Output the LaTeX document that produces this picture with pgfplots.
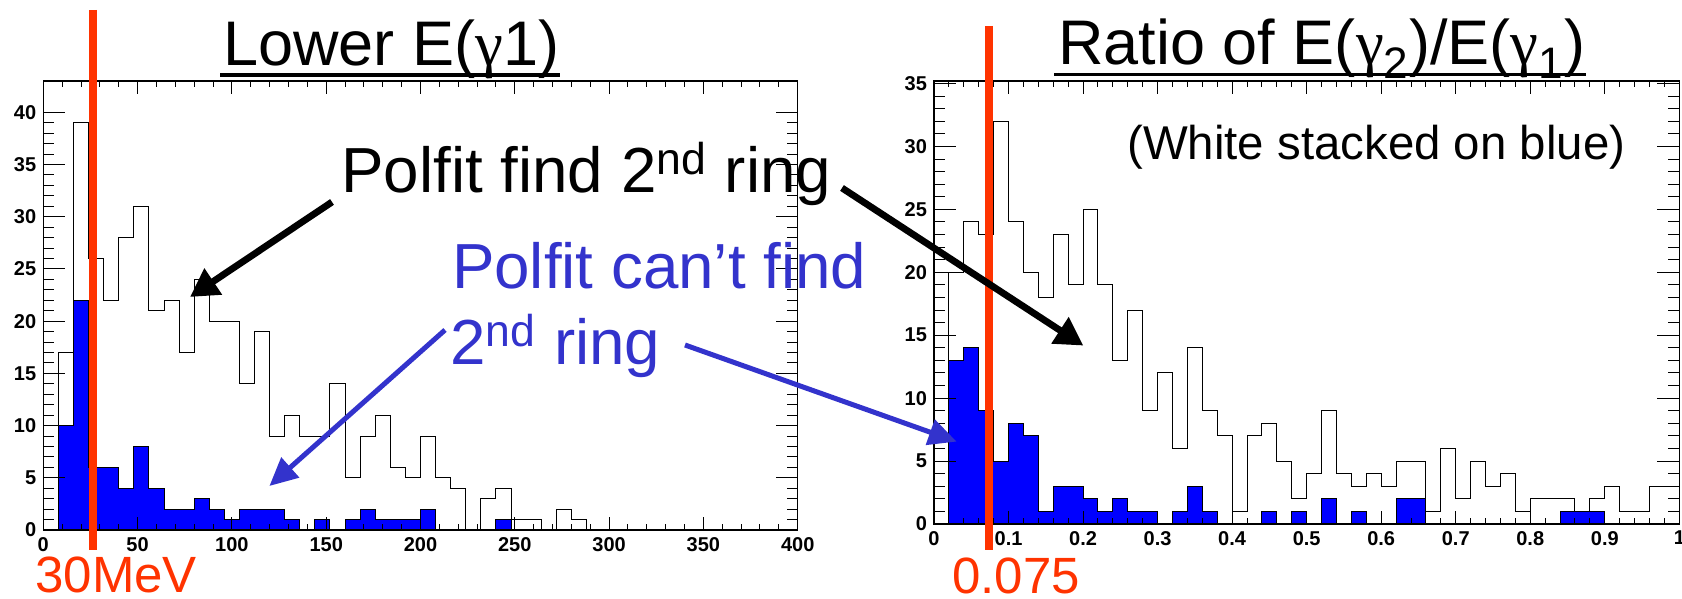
\documentclass[border=0pt]{standalone}
\usepackage{fontspec}
\setmainfont{Liberation Sans}
\newfontfamily\tickfont{Liberation Sans}
\newfontfamily\grk{Liberation Serif}
\usepackage{pgfplots}
\pgfplotsset{compat=1.18}
\usetikzlibrary{arrows.meta}
\definecolor{cut}{RGB}{255,51,0}
\definecolor{annblue}{RGB}{51,51,204}
\definecolor{histblue}{RGB}{0,0,255}

\pgfplotsset{roothist/.style={
  scale only axis, anchor=south west,
  axis line style={line width=0.6pt},
  tick align=inside, xtick pos=both, ytick pos=both,
  major tick length=11pt, minor tick length=5.5pt,
  xtick style={/pgfplots/major tick length=6.3pt,/pgfplots/minor tick length=3pt},
  tick style={line width=0.5pt, black},
  minor x tick num=4, minor y tick num=4,
  /pgf/number format/assume math mode=true,
  ticklabel style={font=\tickfont\bfseries\fontsize{10}{10}\selectfont},
  axis on top,
}}

\begin{document}
\begin{tikzpicture}
\path[use as bounding box] (0,0) rectangle (841pt,299.5pt);

% ---------- left histogram ----------
\begin{axis}[roothist, at={(21.65pt,34.5pt)}, width=377.2pt, height=224.5pt,
  xmin=0, xmax=400, ymin=0, ymax=43,
  xtick={0,50,...,400}, ytick={0,5,...,40}]
\addplot[const plot, draw=black, line width=0.5pt] coordinates {
(0,0) (8,17) (16,39) (24,26) (32,22) (40,28) (48,31) (56,21) (64,22) (72,17)
(80,24) (88,20) (96,20) (104,14) (112,19) (120,9) (128,11) (136,9) (144,9) (152,14)
(160,5) (168,9) (176,11) (184,6) (192,5) (200,9) (208,5) (216,4) (224,0) (232,3)
(240,4) (248,1) (256,1) (264,0) (272,2) (280,1) (288,0)};
\addplot[const plot, fill=histblue, draw=black, line width=0.5pt] coordinates {
(0,0) (8,10) (16,22) (24,6) (32,6) (40,4) (48,8) (56,4) (64,2) (72,2)
(80,3) (88,2) (96,1) (104,2) (112,2) (120,2) (128,1) (136,0) (144,1) (152,0)
(160,1) (168,2) (176,1) (184,1) (192,1) (200,2) (208,0) (216,0) (224,0) (232,0)
(240,1) (248,0)} \closedcycle;
\end{axis}

% ---------- right histogram ----------
\begin{axis}[roothist, at={(467pt,37.5pt)}, width=372.65pt, height=221.5pt,
  xmin=0, xmax=1, ymin=0, ymax=35.2,
  xtick={0,0.1,0.2,0.3,0.4,0.5,0.6,0.7,0.8,0.9,1},
  xticklabels={0,0.1,0.2,0.3,0.4,0.5,0.6,0.7,0.8,0.9,1},
  ytick={0,5,...,35}]
\addplot[const plot, draw=black, line width=0.5pt] coordinates {
(0,0) (0.02,20) (0.04,24) (0.06,23) (0.08,32) (0.10,24) (0.12,20) (0.14,18) (0.16,23) (0.18,19)
(0.20,25) (0.22,19) (0.24,13) (0.26,17) (0.28,9) (0.30,12) (0.32,6) (0.34,14) (0.36,9) (0.38,7)
(0.40,1) (0.42,7) (0.44,8) (0.46,5) (0.48,2) (0.50,4) (0.52,9) (0.54,4) (0.56,3) (0.58,4)
(0.60,3) (0.62,5) (0.64,5) (0.66,1) (0.68,6) (0.70,2) (0.72,5) (0.74,3) (0.76,4) (0.78,1)
(0.80,2) (0.82,2) (0.84,2) (0.86,1) (0.88,2) (0.90,3) (0.92,1) (0.94,1) (0.96,3) (0.98,3) (1.00,3)};
\addplot[const plot, fill=histblue, draw=black, line width=0.5pt] coordinates {
(0,0) (0.02,13) (0.04,14) (0.06,9) (0.08,5) (0.10,8) (0.12,7) (0.14,1) (0.16,3) (0.18,3)
(0.20,2) (0.22,1) (0.24,2) (0.26,1) (0.28,1) (0.30,0) (0.32,1) (0.34,3) (0.36,1) (0.38,0)
(0.40,0) (0.42,0) (0.44,1) (0.46,0) (0.48,1) (0.50,0) (0.52,2) (0.54,0) (0.56,1) (0.58,0)
(0.60,0) (0.62,2) (0.64,2) (0.66,0) (0.68,0) (0.70,0) (0.72,0) (0.74,0) (0.76,0) (0.78,0)
(0.80,0) (0.82,0) (0.84,1) (0.86,1) (0.88,1) (0.90,0) (1.00,0)} \closedcycle;
\end{axis}

% ---------- cut lines ----------
\draw[cut, line width=3.85pt] (46.5pt,294.5pt) -- (46.5pt,24.5pt);
\draw[cut, line width=3.85pt] (494.4pt,286.5pt) -- (494.4pt,24.5pt);
\node[cut, anchor=base west, inner sep=0, font=\fontsize{25.5}{26}\selectfont] at (17.5pt,3pt) {30MeV};
\node[cut, anchor=base west, inner sep=0, font=\fontsize{25.5}{26}\selectfont] at (476pt,2.5pt) {0.075};

% ---------- titles ----------
\node[anchor=base west, inner sep=0, font=\fontsize{31.5}{32}\selectfont] (t1) at (111.5pt,266.5pt) {Lower E({\grk γ}1)};
\draw[line width=1.75pt] ([xshift=-1.5pt,yshift=-4.5pt]t1.base west) -- ([yshift=-4.5pt]t1.base east);
\node[anchor=base west, inner sep=0, font=\fontsize{31.5}{32}\selectfont] (t2) at (529pt,267pt) {Ratio of E({\grk γ}\textsubscript{2})/E({\grk γ}\textsubscript{1})};
\draw[line width=1.75pt] ([xshift=-2pt,yshift=-4.75pt]t2.base west) -- ([yshift=-4.75pt]t2.base east);

% ---------- annotations ----------
\node[anchor=base west, inner sep=0, font=\fontsize{31.85}{32}\selectfont] at (170.5pt,203pt) {Polfit find 2\textsuperscript{nd} ring};
\node[annblue, anchor=base west, inner sep=0, font=\fontsize{31.85}{32}\selectfont] at (225.8pt,155pt) {Polfit can’t find};
\node[annblue, anchor=base west, inner sep=0, font=\fontsize{31.85}{32}\selectfont] at (225pt,117pt) {2\textsuperscript{nd} ring};
\node[anchor=base west, inner sep=0, font=\fontsize{23.7}{24}\selectfont] at (563.5pt,219.5pt) {(White stacked on blue)};

\draw[line width=3.4pt, -{Triangle[length=14pt,width=15pt]}] (166pt,198.5pt) -- (95pt,151pt);
\draw[line width=3.4pt, -{Triangle[length=14pt,width=15pt]}] (421pt,205.5pt) -- (541.7pt,126.7pt);
\draw[annblue, line width=2.5pt, -{Triangle[length=14pt,width=13pt]}] (222.5pt,134.5pt) -- (134.7pt,56.5pt);
\draw[annblue, line width=2.5pt, -{Triangle[length=14pt,width=13pt]}] (342.5pt,127pt) -- (478.3pt,78.7pt);
\end{tikzpicture}
\end{document}
